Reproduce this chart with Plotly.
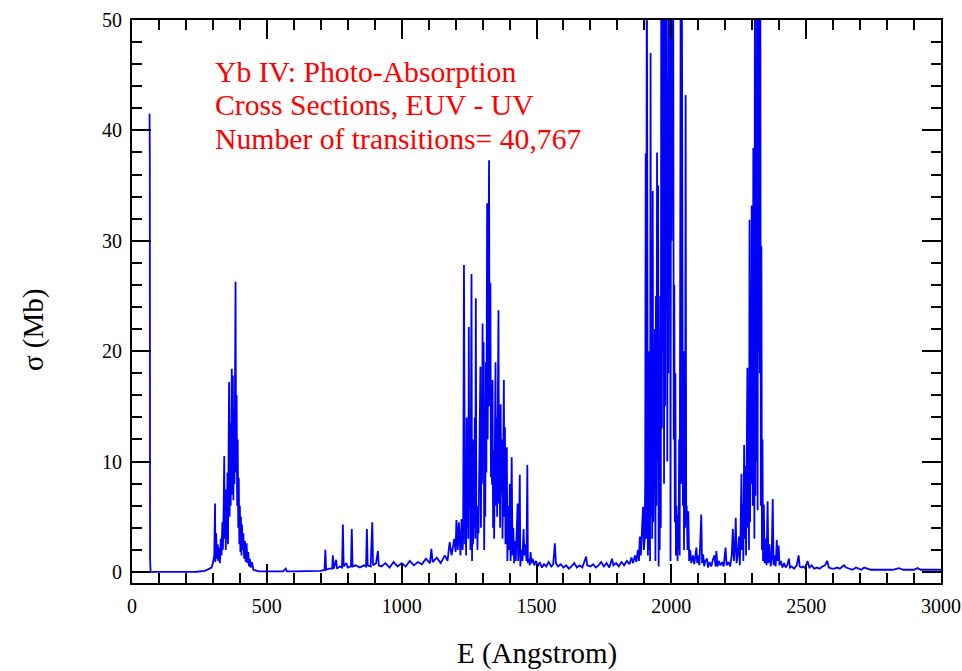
import plotly.graph_objects as go

# Yb IV photo-absorption cross sections (Mb) versus wavelength (Angstrom), grouped by band.

# short-wavelength edge
energy_a = [65, 66, 67, 69, 150, 240, 270, 285, 295]
sigma_a = [41.5, 38.0, 1.2, 0.0, 0.0, 0.02, 0.1, 0.3, 0.4]

# 300-470 A band
energy_b = [300, 305, 308, 309, 312, 315, 318, 320, 323, 326, 329, 332, 335, 337, 340, 342,
            344, 346, 348, 350, 352, 354, 356, 358, 360, 362, 364, 366, 368, 370, 372, 374,
            376, 378, 380, 382, 384, 386, 388, 390, 392, 394, 396, 398, 400, 402, 404, 406,
            408, 410, 413, 416, 419, 422, 425, 428, 431, 434, 437, 440, 445, 450, 460, 470]
sigma_b = [0.8, 1.5, 6.2, 0.9, 3.5, 1.2, 2.5, 1.0, 2.2, 0.8, 3.0, 1.5, 4.5, 2.0, 6.0, 10.5,
           3.0, 5.5, 2.0, 7.5, 3.0, 9.0, 2.5, 12.0, 17.2, 5.0, 13.5, 6.0, 15.0, 18.4, 7.0, 17.8,
           6.5, 14.5, 8.0, 17.0, 26.3, 9.0, 16.0, 6.0, 12.0, 4.0, 8.5, 2.5, 6.0, 1.8, 5.0, 1.5,
           4.3, 2.0, 3.5, 1.2, 2.8, 0.9, 2.6, 0.8, 1.8, 0.5, 1.2, 0.4, 0.9, 0.2, 0.1, 0.05]

# 470-1226 A: isolated lines on a weak continuum
energy_c = [480, 500, 540, 560, 570, 574, 600, 650, 700, 714, 717, 720, 730, 742, 745, 748,
            757, 760, 770, 779, 782, 785, 795, 800, 812, 815, 818, 830, 845, 860, 868, 871,
            874, 885, 891, 894, 905, 912, 915, 925, 940, 955, 970, 985, 1000, 1015, 1030,
            1045, 1060, 1075, 1090, 1105, 1110, 1115, 1130, 1145, 1160, 1170, 1178, 1185,
            1195, 1200, 1203, 1208, 1212, 1218, 1222, 1226]
sigma_c = [0.05, 0.05, 0.05, 0.05, 0.3, 0.05, 0.05, 0.05, 0.1, 0.2, 2.0, 0.2, 0.3, 0.3, 1.5, 0.3,
           1.1, 0.3, 0.5, 0.4, 4.3, 0.5, 0.8, 0.4, 0.5, 3.9, 0.5, 0.6, 0.4, 0.6, 0.5, 3.9,
           0.6, 0.5, 4.5, 0.6, 0.8, 1.9, 0.6, 0.5, 0.8, 0.4, 0.9, 0.5, 0.8, 0.5, 1.0,
           0.6, 0.9, 0.7, 1.2, 0.8, 2.1, 0.9, 1.3, 0.8, 1.5, 1.0, 2.7, 1.5,
           3.0, 1.8, 4.7, 2.0, 4.5, 1.5, 4.8, 2.0]

# 1226-1481 A band
energy_d = [1228, 1231, 1233, 1235, 1237, 1239, 1241, 1243, 1245, 1247, 1249, 1251, 1253, 1255,
            1257, 1259, 1261, 1263, 1265, 1267, 1269, 1271, 1273, 1275, 1277, 1279, 1281, 1283,
            1285, 1287, 1290, 1292, 1294, 1296, 1298, 1300, 1302, 1304, 1306, 1308, 1310, 1312,
            1314, 1317, 1319, 1321, 1324, 1326, 1329, 1331, 1333, 1335, 1337, 1339, 1341, 1343,
            1345, 1348, 1350, 1352, 1354, 1356, 1359, 1361, 1363, 1365, 1367, 1369, 1372, 1374,
            1377, 1379, 1381, 1383, 1385, 1388, 1390, 1392, 1395, 1398, 1401, 1404, 1408, 1411,
            1414, 1417, 1420, 1423, 1426, 1430, 1432, 1435, 1438, 1440, 1444, 1448, 1452, 1455,
            1459, 1463, 1466, 1468, 1472, 1475, 1478, 1481]
sigma_d = [3.0, 27.8, 11.0, 2.5, 9.0, 1.5, 14.0, 4.0, 10.0, 3.0, 22.2, 6.0, 13.0, 2.0,
           15.0, 27.0, 1.0, 8.0, 2.5, 12.0, 4.0, 14.0, 3.0, 24.8, 4.5, 6.0, 2.0, 5.5,
           3.5, 9.0, 14.0, 18.6, 4.0, 16.0, 8.0, 22.5, 10.0, 20.8, 2.0, 12.0, 5.0, 19.0,
           9.0, 33.4, 12.0, 28.0, 37.3, 15.0, 26.2, 8.6, 14.0, 7.9, 17.4, 4.0, 11.0, 3.0,
           15.0, 19.0, 6.0, 14.0, 5.0, 18.0, 23.7, 6.2, 12.0, 4.0, 15.2, 7.0, 12.0, 3.0,
           14.0, 17.4, 5.0, 13.1, 2.5, 9.0, 11.3, 1.0, 6.0, 2.0, 8.0, 1.0, 10.4, 1.5,
           4.0, 0.8, 2.8, 1.0, 4.5, 6.2, 1.0, 3.0, 8.8, 0.5, 2.0, 1.0, 3.9, 1.5,
           2.5, 1.0, 9.7, 0.8, 1.2, 0.6, 1.8, 0.8]

# 1481-1901 A continuum
energy_e = [1486, 1492, 1498, 1505, 1512, 1520, 1528, 1536, 1545, 1555, 1562, 1568, 1572, 1580,
            1590, 1600, 1610, 1620, 1630, 1640, 1650, 1660, 1670, 1678, 1684, 1688, 1700, 1710,
            1720, 1730, 1740, 1750, 1760, 1770, 1780, 1785, 1795, 1805, 1815, 1825, 1835, 1845,
            1852, 1858, 1865, 1870, 1876, 1880, 1883, 1887, 1891, 1895, 1898, 1901]
sigma_e = [1.2, 0.6, 1.0, 0.5, 0.9, 0.4, 0.7, 0.5, 0.9, 0.5, 0.7, 2.6, 0.8, 0.5,
           0.7, 0.4, 0.6, 0.3, 0.5, 0.8, 0.4, 0.6, 0.4, 0.9, 1.4, 0.6, 0.5, 0.7,
           0.4, 0.6, 0.9, 0.5, 0.8, 0.4, 1.2, 0.6, 0.8, 0.5, 0.9, 0.6, 1.0, 0.7,
           1.3, 0.8, 1.5, 0.9, 2.0, 1.0, 3.2, 1.5, 4.0, 5.9, 2.0, 3.0]

# 1903-2254 A band (strongest lines run off scale)
energy_f = [1903, 1905, 1907, 1909, 1911, 1913, 1915, 1917, 1919, 1921, 1923, 1925, 1927, 1929,
            1931, 1933, 1935, 1937, 1939, 1941, 1943, 1945, 1947, 1949, 1951, 1953, 1955, 1957,
            1959, 1961, 1963, 1965, 1967, 1969, 1971, 1973, 1975, 1977, 1979, 1981, 1983, 1985,
            1987, 1989, 1991, 1993, 1995, 1997, 1999, 2001, 2003, 2005, 2007, 2009, 2011, 2013,
            2015, 2017, 2019, 2021, 2023, 2025, 2027, 2029, 2031, 2033, 2035, 2037, 2039, 2041,
            2043, 2045, 2047, 2049, 2051, 2053, 2055, 2057, 2060, 2063, 2066, 2070, 2074, 2080,
            2085, 2090, 2093, 2096, 2100, 2104, 2108, 2111, 2114, 2118, 2122, 2126, 2132, 2136,
            2142, 2148, 2154, 2160, 2164, 2167, 2171, 2176, 2182, 2188, 2194, 2201, 2205, 2212,
            2218, 2224, 2228, 2232, 2236, 2239, 2242, 2246, 2251, 2254]
sigma_f = [8.0, 37.9, 3.0, 60.0, 31.5, 1.5, 20.0, 2.0, 12.0, 1.0, 47.0, 5.0, 30.0, 3.0,
           34.5, 4.5, 15.0, 8.0, 22.0, 1.0, 25.0, 6.0, 38.0, 10.0, 35.0, 0.5, 12.0, 2.0,
           25.0, 4.0, 65.0, 13.0, 58.0, 20.0, 62.0, 8.0, 55.0, 15.0, 60.0, 24.0, 52.0, 10.0,
           44.7, 18.0, 58.0, 28.0, 60.0, 1.0, 56.0, 30.0, 62.0, 34.0, 55.0, 12.0, 26.0, 4.5,
           18.0, 1.5, 6.0, 3.9, 1.0, 5.2, 2.0, 12.0, 1.5, 30.0, 60.0, 8.0, 55.0, 31.0,
           6.0, 20.0, 2.0, 14.0, 4.0, 43.2, 5.0, 6.0, 2.0, 5.5, 1.0, 2.0, 0.8, 1.5,
           0.7, 1.8, 2.2, 0.8, 1.5, 0.6, 3.0, 5.2, 0.8, 1.6, 0.5, 1.0, 1.2, 0.4,
           0.9, 0.5, 1.1, 1.5, 0.5, 1.9, 0.5, 1.0, 0.6, 0.9, 0.5, 2.2, 0.6, 0.9,
           0.5, 1.5, 3.9, 1.0, 2.5, 4.9, 0.8, 1.5, 3.2, 0.6]

# 2257-2497 A band
energy_g = [2257, 2260, 2262, 2265, 2267, 2270, 2272, 2275, 2277, 2280, 2282, 2284, 2286, 2288,
            2290, 2292, 2294, 2296, 2298, 2300, 2302, 2304, 2306, 2308, 2310, 2312, 2314, 2316,
            2318, 2320, 2322, 2324, 2326, 2328, 2330, 2332, 2334, 2336, 2338, 2340, 2343, 2346,
            2350, 2353, 2357, 2360, 2364, 2368, 2372, 2376, 2379, 2383, 2387, 2391, 2394, 2398,
            2401, 2406, 2412, 2418, 2424, 2430, 2436, 2440, 2446, 2455, 2465, 2472, 2476, 2483,
            2490, 2497]
sigma_g = [4.0, 8.9, 2.0, 6.2, 1.0, 11.5, 3.0, 9.6, 1.5, 10.0, 18.5, 4.0, 13.0, 2.0,
           31.9, 4.5, 24.0, 8.0, 33.2, 14.7, 6.0, 38.4, 16.0, 3.0, 60.0, 6.9, 44.8, 10.0,
           62.0, 5.6, 58.0, 20.0, 65.0, 18.0, 55.0, 6.0, 29.5, 2.0, 12.0, 1.0, 6.1, 0.8,
           3.0, 0.6, 6.4, 0.8, 2.5, 0.5, 1.2, 6.6, 0.6, 1.5, 0.5, 2.9, 1.0, 2.4,
           0.6, 1.0, 0.4, 0.8, 0.4, 0.6, 1.2, 0.4, 0.5, 0.3, 0.6, 1.5, 0.5, 0.4,
           0.5, 0.3]

# long-wavelength tail
energy_h = [2505, 2512, 2520, 2530, 2540, 2550, 2560, 2570, 2578, 2584, 2595, 2605, 2615, 2625,
            2635, 2640, 2648, 2660, 2672, 2685, 2695, 2705, 2715, 2725, 2740, 2760, 2780, 2800,
            2820, 2844, 2860, 2880, 2900, 2913, 2925, 2950, 2975, 3000]
sigma_h = [1.0, 0.4, 0.6, 0.3, 0.4, 0.3, 0.5, 0.6, 1.0, 0.4, 0.3, 0.3, 0.4, 0.3,
           0.5, 0.6, 0.4, 0.3, 0.2, 0.4, 0.3, 0.2, 0.4, 0.3, 0.2, 0.2, 0.2, 0.2,
           0.2, 0.35, 0.2, 0.2, 0.2, 0.35, 0.2, 0.2, 0.2, 0.2]

title_lines = ["Yb IV: Photo-Absorption",
               "Cross Sections, EUV - UV",
               "Number of transitions= 40,767"]

energy = energy_a + energy_b + energy_c + energy_d + energy_e + energy_f + energy_g + energy_h
sigma = sigma_a + sigma_b + sigma_c + sigma_d + sigma_e + sigma_f + sigma_g + sigma_h

SERIF = "Liberation Serif, Times New Roman, serif"

fig = go.Figure()
fig.add_trace(go.Scatter(x=energy, y=sigma, mode="lines",
                         line=dict(color="#0000ff", width=1.8), hoverinfo="skip"))

axis_common = dict(
    showline=True, linecolor="black", linewidth=2, mirror="allticks",
    ticks="inside", ticklen=19, tickwidth=2, tickcolor="black",
    showgrid=False, zeroline=False, automargin=False,
    tickfont=dict(family=SERIF, size=20, color="black"),
)

fig.update_xaxes(range=[0, 3000], tickmode="linear", tick0=0, dtick=500,
                 ticklabelstandoff=4,
                 minor=dict(dtick=100, tick0=0, ticks="inside", ticklen=10, tickwidth=2,
                            tickcolor="black", showgrid=False),
                 **axis_common)
fig.update_yaxes(range=[-1, 50], tickmode="linear", tick0=0, dtick=10,
                 ticklabelstandoff=4,
                 minor=dict(dtick=2, tick0=0, ticks="inside", ticklen=10, tickwidth=2,
                            tickcolor="black", showgrid=False),
                 **axis_common)

line_y = [0.9075, 0.849, 0.7886]
for text, yy in zip(title_lines, line_y):
    fig.add_annotation(text=text, xref="paper", yref="paper", x=0.1005, y=yy,
                       xanchor="left", yanchor="middle", showarrow=False,
                       font=dict(family=SERIF, size=29.7, color="#ff0000"))

fig.add_annotation(text="E (Angstrom)", xref="paper", yref="paper", x=0.5, y=-0.125,
                   xanchor="center", yanchor="middle", showarrow=False,
                   font=dict(family=SERIF, size=29, color="black"))
fig.add_annotation(text="σ (Mb)", xref="paper", yref="paper", x=-0.1225, y=0.449,
                   xanchor="center", yanchor="middle", showarrow=False, textangle=-90,
                   font=dict(family=SERIF, size=29, color="black"))

fig.update_layout(
    template="none",
    width=962, height=671,
    margin=dict(l=132, r=21, t=20, b=88, autoexpand=False),
    paper_bgcolor="white", plot_bgcolor="white",
    showlegend=False,
)

fig.write_html("out.html")
